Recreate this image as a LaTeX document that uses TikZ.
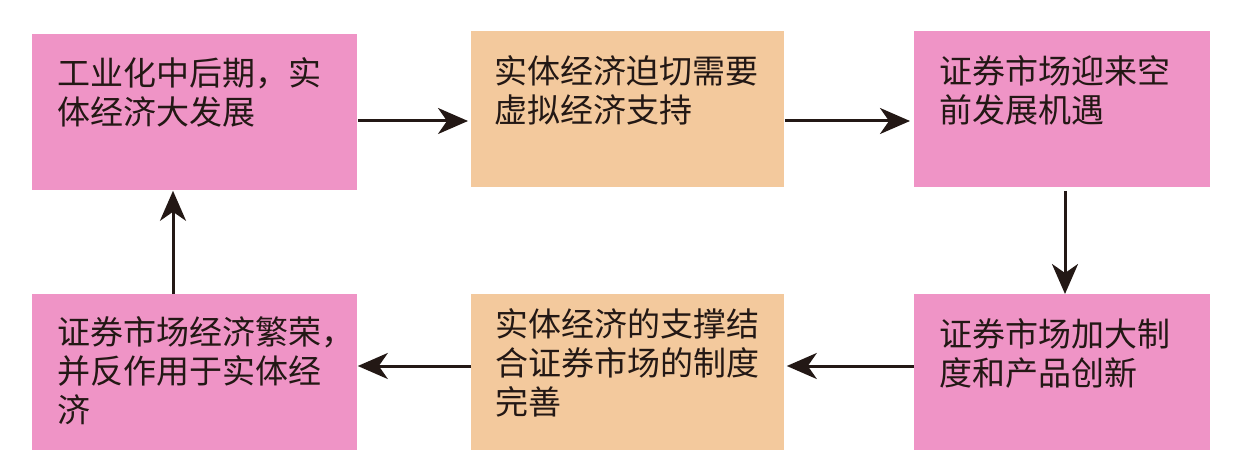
\documentclass[tikz,border=0pt]{standalone}
\usepackage{fontspec}
\newfontfamily\cjk{Noto Sans CJK SC}
\usetikzlibrary{arrows.meta}
\definecolor{boxpink}{RGB}{239,148,198}
\definecolor{boxtan}{RGB}{243,201,157}
\definecolor{ink}{RGB}{35,24,21}
\tikzset{
  box/.style={fill=#1, inner sep=0pt, anchor=north west, minimum height=78pt},
  txt/.style={anchor=north west, inner sep=0pt, align=left, text=ink,
    font=\cjk\fontsize{16.5}{19.5}\selectfont},
  arr/.style={line width=1.5pt, draw=ink, -{Stealth[length=15pt,width=13pt,inset=4.5pt]}}
}
\begin{document}
\begin{tikzpicture}[x=0.5pt,y=-0.5pt]
\useasboundingbox (0,0) rectangle (1238,476);
% top row
\node[box=boxpink, minimum width=162.5pt] (a) at (32,34) {};
\node[box=boxtan, minimum width=156.5pt] (b) at (471,31) {};
\node[box=boxpink, minimum width=148pt] (c) at (914,31) {};
% bottom row
\node[box=boxpink, minimum width=162.5pt] (d) at (32,294) {};
\node[box=boxtan, minimum width=156.5pt] (e) at (471,294) {};
\node[box=boxpink, minimum width=148pt] (f) at (914,294) {};
% texts
\node[txt] (a-t) at ([shift={(25,23)}]a.north west) {工业化中后期，实\\体经济大发展};
\node[txt] (b-t) at ([shift={(23,24)}]b.north west) {实体经济迫切需要\\虚拟经济支持};
\node[txt] (c-t) at ([shift={(25,24)}]c.north west) {证券市场迎来空\\前发展机遇};
\node[txt] (d-t) at ([shift={(25,22)}]d.north west) {证券市场经济繁荣，\\并反作用于实体经\\济};
\node[txt] (e-t) at ([shift={(24,14)}]e.north west) {实体经济的支撑结\\合证券市场的制度\\完善};
\node[txt] (f-t) at ([shift={(25,24)}]f.north west) {证券市场加大制\\度和产品创新};
% arrows
\draw[arr, shorten >=1.5pt] (a.east |- 0,121) -- (b.west |- 0,121);
\draw[arr, shorten >=2pt] (b.east |- 0,121) -- (c.west |- 0,121);
\draw[arr, shorten <=1.5pt] (c.south -| 1065,0) -- (f.north -| 1065,0);
\draw[arr, shorten >=1pt] (f.west |- 0,366) -- (e.east |- 0,366);
\draw[arr] (e.west |- 0,366) -- (d.east |- 0,366);
\draw[arr] (d.north -| 173,0) -- (a.south -| 173,0);
\end{tikzpicture}
\end{document}
